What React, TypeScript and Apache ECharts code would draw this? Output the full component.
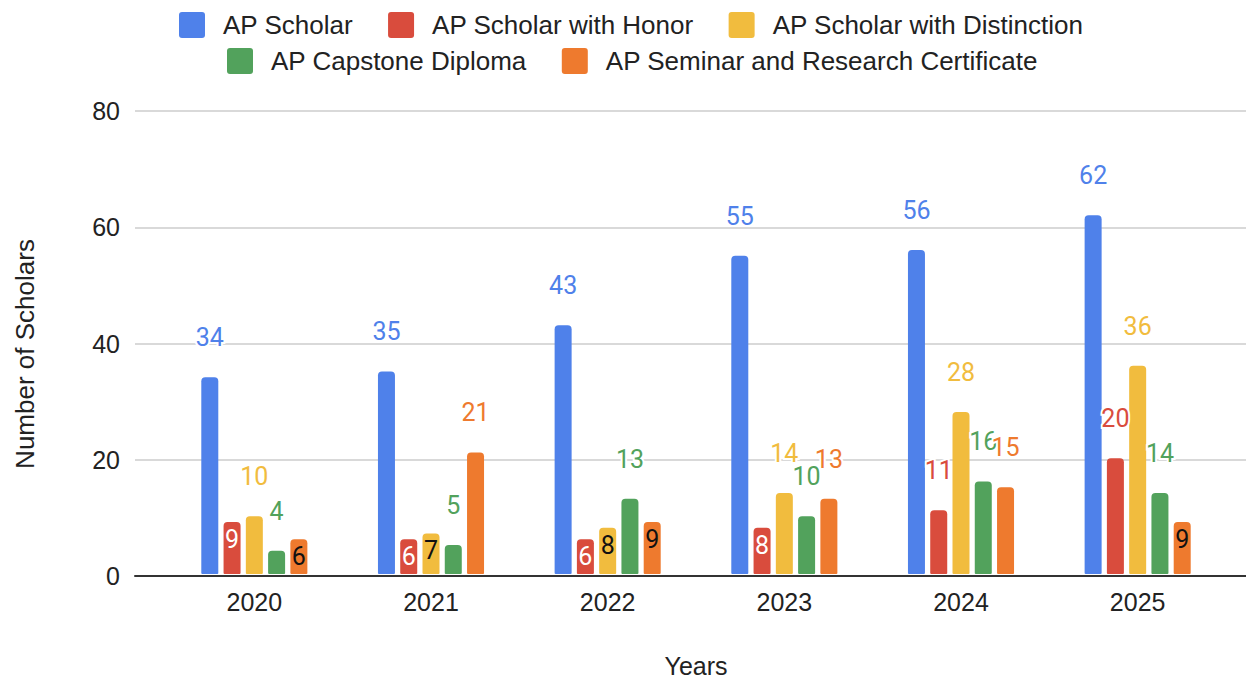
import React, { useEffect, useRef } from "react";
import * as echarts from "echarts";

const years = ["2020", "2021", "2022", "2023", "2024", "2025"];
const seriesNames = [
  "AP Scholar",
  "AP Scholar with Honor",
  "AP Scholar with Distinction",
  "AP Capstone Diploma",
  "AP Seminar and Research Certificate",
];
const apScholar = [34, 35, 43, 55, 56, 62];
const apHonor = [9, 6, 6, 8, 11, 20];
const apDistinction = [10, 7, 8, 14, 28, 36];
const apCapstone = [4, 5, 13, 10, 16, 14];
const apSeminar = [6, 21, 9, 13, 15, 9];
const yTicks = [0, 20, 40, 60, 80];

const colors = ["#4f81ea", "#d94c3d", "#f1bc3e", "#52a25c", "#ee7a2e"];
const insideLabelColors = ["#ffffff", "#ffffff", "#111111", "#111111", "#111111"];

const AXIS_FONT = "'Liberation Sans', Arial, Helvetica, sans-serif";
const LABEL_FONT = "Roboto, 'Noto Sans', sans-serif";
const LEGEND_ICON =
  "path://M3,0 H23 Q26,0 26,3 V23 Q26,26 23,26 H3 Q0,26 0,23 V3 Q0,0 3,0 Z";

export default function App() {
  const ref = useRef<HTMLDivElement>(null);
  useEffect(() => {
    document.body.style.margin = "0";
    if (!ref.current) return;
    const chart = echarts.init(ref.current, undefined, { renderer: "svg" });
    const allValues = [apScholar, apHonor, apDistinction, apCapstone, apSeminar];

    const series = allValues.map((vals, si) => ({
      name: seriesNames[si],
      type: "bar",
      xAxisIndex: 1,
      yAxisIndex: 1,
      barWidth: 17,
      barGap: "31%",
      itemStyle: { color: colors[si], borderRadius: [4, 4, 1, 1] },
      data: vals.map((v) => {
        const inside = v < 10 && si !== 3;
        return {
          value: v,
          label: inside
            ? {
                show: true,
                position: "insideTop",
                distance: 5,
                color: insideLabelColors[si],
                fontSize: 25,
                fontFamily: LABEL_FONT,
              }
            : {
                show: true,
                position: "top",
                distance: 27,
                color: colors[si],
                fontSize: 25,
                fontFamily: LABEL_FONT,
                textBorderColor: "#ffffff",
                textBorderWidth: 4,
              },
        };
      }),
    }));

    const legendCommon = {
      icon: LEGEND_ICON,
      itemWidth: 26,
      itemHeight: 26,
      itemGap: 35,
      itemStyle: { borderWidth: 0 },
      textStyle: {
        fontSize: 26,
        color: "#222",
        fontFamily: AXIS_FONT,
        padding: [0, 0, 0, 13],
      },
    };

    chart.setOption({
      animation: false,
      backgroundColor: "#ffffff",
      color: colors,
      legend: [
        { ...legendCommon, data: seriesNames.slice(0, 3), top: 7, left: 174 },
        { ...legendCommon, data: seriesNames.slice(3), top: 43, left: 222 },
      ],
      grid: [
        { left: 135, right: 0, top: 111, bottom: 107 },
        { left: 166, right: 20, top: 111, bottom: 107 },
      ],
      xAxis: [
        {
          type: "category",
          gridIndex: 0,
          data: years,
          axisLine: { show: true, lineStyle: { color: "#333", width: 2 } },
          axisTick: { show: false },
          axisLabel: { show: false },
        },
        {
          type: "category",
          gridIndex: 1,
          data: years,
          axisLine: { show: false },
          axisTick: { show: false },
          axisLabel: {
            fontSize: 25,
            color: "#222",
            fontFamily: AXIS_FONT,
            margin: 15,
          },
          name: "Years",
          nameLocation: "middle",
          nameGap: 79,
          nameTextStyle: { fontSize: 25, color: "#222", fontFamily: AXIS_FONT },
        },
      ],
      yAxis: [
        {
          type: "value",
          gridIndex: 0,
          min: yTicks[0],
          max: yTicks[yTicks.length - 1],
          interval: 20,
          axisLine: { show: false },
          axisTick: { show: false },
          axisLabel: {
            fontSize: 25,
            color: "#222",
            fontFamily: AXIS_FONT,
            margin: 15,
          },
          splitLine: { show: true, lineStyle: { color: "#cccccc", width: 1.5 } },
        },
        {
          type: "value",
          gridIndex: 1,
          min: yTicks[0],
          max: yTicks[yTicks.length - 1],
          interval: 20,
          show: false,
          splitLine: { show: false },
        },
      ],
      graphic: [
        {
          type: "text",
          x: 25,
          y: 354,
          rotation: Math.PI / 2,
          style: {
            text: "Number of Scholars",
            fontSize: 26,
            fill: "#222",
            fontFamily: AXIS_FONT,
            align: "center",
            verticalAlign: "middle",
          },
        },
      ],
      series,
    });
    return () => chart.dispose();
  }, []);
  return <div ref={ref} style={{ width: 1246, height: 683 }} />;
}
